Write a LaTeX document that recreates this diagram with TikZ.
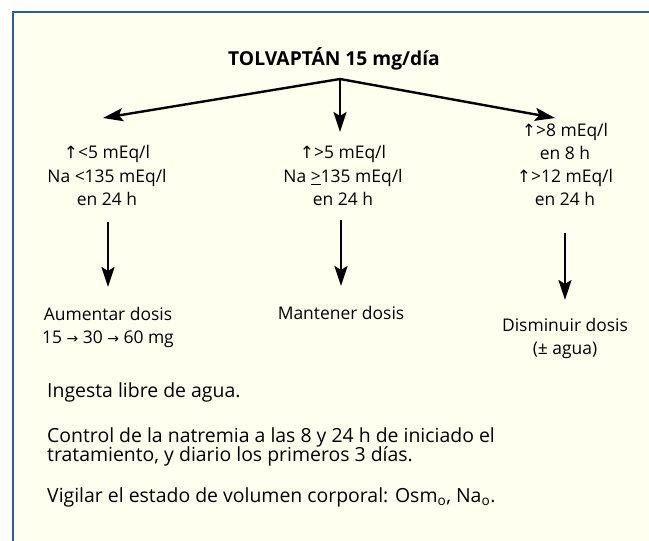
\documentclass[tikz,border=0pt]{standalone}
\usepackage{fontspec}
\setmainfont{Open Sans}
\newfontfamily\symf{DejaVu Sans}
\usetikzlibrary{arrows.meta}
\definecolor{cream}{HTML}{FFFFF0}
\definecolor{frameblue}{HTML}{2B5CA8}
\tikzset{
  txt/.style={font=\fontsize{17.5}{22}\selectfont, inner sep=0pt, align=center, anchor=base},
  note/.style={font=\fontsize{19.5}{20}\selectfont, inner sep=0pt, anchor=base west},
  arr/.style={line width=2.4bp, -{Stealth[length=20bp,width=13bp,inset=4bp]}},
}
\newcommand{\upa}{{\symf\fontsize{17}{17}\selectfont\char"2191}}
\newcommand{\rta}{{\symf\fontsize{14}{14}\selectfont\char"2192}}
\begin{document}
\begin{tikzpicture}[x=1bp,y=-1bp]
\useasboundingbox (0,0) rectangle (649,541);
\fill[cream] (13,12) rectangle (649,541);
\draw[frameblue, line width=2bp] (13,541) -- (13,12) -- (649,12);
% title
\node[txt, font=\bfseries\fontsize{19.3}{20}\selectfont] (title) at (334,66) {TOLVAPTÁN 15 mg/día};
\coordinate (top) at (340,79);
% columns
\node[txt] (c1a) at (107,159) {\upa<5 mEq/l};
\node[txt] (c1b) at (107,183) {Na <135 mEq/l};
\node[txt] (c1c) at (107,206) {en 24 h};
\node[txt] (c2a) at (343,159) {\upa>5 mEq/l};
\node[txt] (c2b) at (343,183) {Na \underline{>}135 mEq/l};
\node[txt] (c2c) at (343,206) {en 24 h};
\node[txt] (c3a) at (565,137) {\upa>8 mEq/l};
\node[txt] (c3b) at (565,160) {en 8 h};
\node[txt] (c3c) at (565,183) {\upa>12 mEq/l};
\node[txt] (c3d) at (565,206) {en 24 h};
% results
\node[txt] (r1a) at (108,320) {Aumentar dosis};
\node[txt] (r1b) at (108,343) {15 \rta\ 30 \rta\ 60 mg};
\node[txt] (r2) at (341,319) {Mantener dosis};
\node[txt] (r3a) at (565,331) {Disminuir dosis};
\node[txt] (r3b) at (565,354) {(± agua)};
% arrow endpoints
\coordinate (t1) at (103,118);
\coordinate (t2) at (340,132);
\coordinate (t3) at (555,118);
\coordinate (s1) at (108,222);
\coordinate (e1) at (108,287);
\coordinate (s2) at (341,220);
\coordinate (e2) at (341,286);
\coordinate (s3) at (565,233);
\coordinate (e3) at (565,300);
\draw[arr] (top) -- (t1);
\draw[arr] (top) -- (t2);
\draw[arr] (top) -- (t3);
\draw[arr] (s1) -- (e1);
\draw[arr] (s2) -- (e2);
\draw[arr] (s3) -- (e3);
% notes
\node[note] (n1) at (47,397) {Ingesta libre de agua.};
\node[note] (n2) at (47,442) {Control de la natremia a las 8 y 24 h de iniciado el};
\node[note] (n3) at (47,461) {tratamiento, y diario los primeros 3 días.};
\node[note] (n4) at (47,502) {Vigilar el estado de volumen corporal: Osm\textsubscript{o}, Na\textsubscript{o}.};
\end{tikzpicture}
\end{document}
